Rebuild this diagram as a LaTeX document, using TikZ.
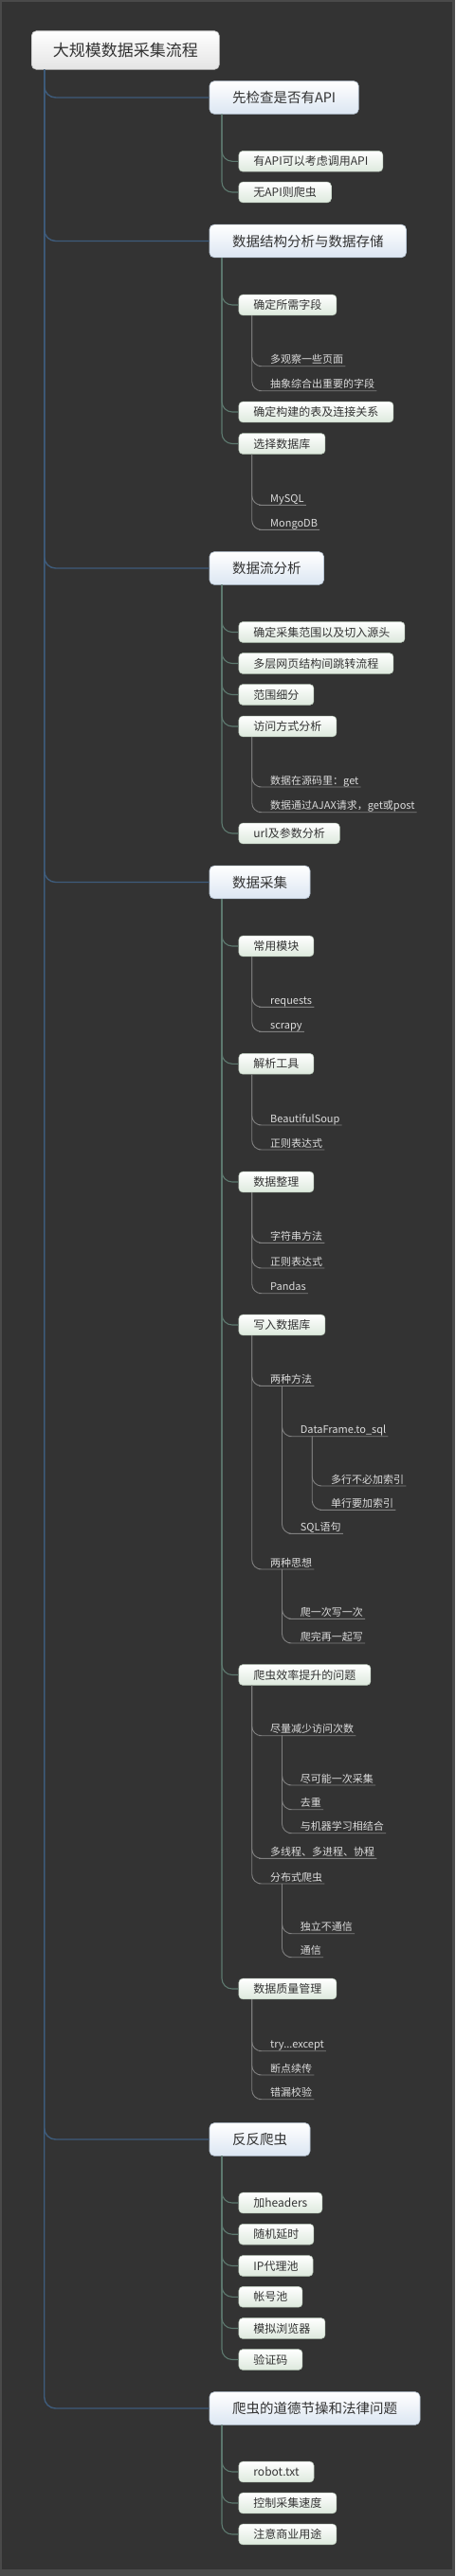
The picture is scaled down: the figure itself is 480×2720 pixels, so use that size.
\documentclass[tikz,border=0pt]{standalone}
\usepackage{fontspec}
\setmainfont{Noto Sans CJK SC}
\definecolor{bg}{HTML}{333333}
\definecolor{frame}{HTML}{4A4A4A}
\definecolor{trunkc}{HTML}{3E5C7C}
\definecolor{ltwoc}{HTML}{5E7A70}
\definecolor{lthreec}{HTML}{808080}
\definecolor{leaftxt}{HTML}{DCDCDC}
\definecolor{txt}{HTML}{333333}
\definecolor{lonebot}{HTML}{DCE6F2}
\definecolor{loneborder}{HTML}{B9C7D6}
\definecolor{ltwobot}{HTML}{DDE9DD}
\definecolor{ltwoborder}{HTML}{B8C8B8}
\definecolor{rootbot}{HTML}{E4E4E4}
\tikzset{
  rootbox/.style={rounded corners=5pt, top color=white, bottom color=rootbot, draw=gray!50, line width=0.6pt,
    font=\fontsize{17}{20}\selectfont, text=txt, inner xsep=22.5pt, inner ysep=0pt, minimum height=40.6pt, anchor=west},
  lonebox/.style={rounded corners=5pt, top color=white, bottom color=lonebot, draw=loneborder, line width=0.6pt,
    font=\fontsize{14.5}{17}\selectfont, text=txt, inner xsep=24pt, inner ysep=0pt, minimum height=34.7pt, anchor=west},
  ltwobox/.style={rounded corners=4pt, top color=white, bottom color=ltwobot, draw=ltwoborder, line width=0.5pt,
    font=\fontsize{12}{14}\selectfont, text=txt, inner xsep=15.5pt, inner ysep=0pt, minimum height=21.7pt, anchor=west},
  leaf/.style={font=\fontsize{11}{13}\selectfont, text=leaftxt, inner xsep=2pt, inner ysep=0pt, anchor=base west},
  trunkline/.style={draw=trunkc, line width=1.4pt, rounded corners=12pt},
  ltwoline/.style={draw=ltwoc, line width=1.1pt, rounded corners=11pt},
  lthreeline/.style={draw=lthreec, line width=0.9pt, rounded corners=10pt},
}
\begin{document}
\begin{tikzpicture}[x=1pt,y=-1pt]
\fill[frame] (0,0) rectangle (480,2720);
\fill[bg] (2,1.5) rectangle (477,2713);
\useasboundingbox (0,0) rectangle (480,2720);

% root
\node[rootbox] (root) at (33,53) {大规模数据采集流程};

% level 1
\node[lonebox] (a) at (220.7,103) {先检查是否有API};
\node[lonebox] (b) at (220.7,254.5) {数据结构分析与数据存储};
\node[lonebox] (c) at (220.7,600) {数据流分析};
\node[lonebox] (d) at (220.7,931.5) {数据采集};
\node[lonebox] (e) at (220.7,2259) {反反爬虫};
\node[lonebox] (f) at (220.7,2543) {爬虫的道德节操和法律问题};

\foreach \n in {a,b,c,d,e,f}{
  \draw[trunkline] ([xshift=13.7pt]root.south west) |- (\n.west);
}

% level 2
\node[ltwobox] (a1) at (251.7,170.3) {有API可以考虑调用API};
\node[ltwobox] (a2) at (251.7,203) {无API则爬虫};

\node[ltwobox] (b1) at (251.7,322) {确定所需字段};
\node[ltwobox] (b2) at (251.7,435) {确定构建的表及连接关系};
\node[ltwobox] (b3) at (251.7,468.5) {选择数据库};

\node[ltwobox] (c1) at (251.7,667.5) {确定采集范围以及切入源头};
\node[ltwobox] (c2) at (251.7,700.5) {多层网页结构间跳转流程};
\node[ltwobox] (c3) at (251.7,733.5) {范围细分};
\node[ltwobox] (c4) at (251.7,767) {访问方式分析};
\node[ltwobox] (c5) at (251.7,880) {url及参数分析};

\node[ltwobox] (d1) at (251.7,999) {常用模块};
\node[ltwobox] (d2) at (251.7,1123.3) {解析工具};
\node[ltwobox] (d3) at (251.7,1248) {数据整理};
\node[ltwobox] (d4) at (251.7,1399) {写入数据库};
\node[ltwobox] (d5) at (251.7,1768.5) {爬虫效率提升的问题};
\node[ltwobox] (d6) at (251.7,2100) {数据质量管理};

\node[ltwobox] (e1) at (251.7,2326) {加headers};
\node[ltwobox] (e2) at (251.7,2359.2) {随机延时};
\node[ltwobox] (e3) at (251.7,2392.5) {IP代理池};
\node[ltwobox] (e4) at (251.7,2425.3) {帐号池};
\node[ltwobox] (e5) at (251.7,2458.5) {模拟浏览器};
\node[ltwobox] (e6) at (251.7,2491.5) {验证码};

\node[ltwobox] (f1) at (251.7,2610) {robot.txt};
\node[ltwobox] (f2) at (251.7,2643) {控制采集速度};
\node[ltwobox] (f3) at (251.7,2676) {注意商业用途};

\foreach \p/\cs in {a/{a1,a2}, b/{b1,b2,b3}, c/{c1,c2,c3,c4,c5}, d/{d1,d2,d3,d4,d5,d6}, e/{e1,e2,e3,e4,e5,e6}, f/{f1,f2,f3}}{
  \foreach \c in \cs {
    \draw[ltwoline] ([xshift=13.3pt]\p.south west) |- (\c.west);
  }
}

% level 3 leaves
\node[leaf] (b11) at (283,383.7) {多观察一些页面};
\node[leaf] (b12) at (283,409.7) {抽象综合出重要的字段};
\node[leaf] (b31) at (283,530.3) {MySQL};
\node[leaf] (b32) at (283,556.3) {MongoDB};
\node[leaf] (c41) at (283,828) {数据在源码里：get};
\node[leaf] (c42) at (283,854.7) {数据通过AJAX请求，get或post};
\node[leaf] (d11) at (283,1060.3) {requests};
\node[leaf] (d12) at (283,1086.3) {scrapy};
\node[leaf] (d21) at (283,1185) {BeautifulSoup};
\node[leaf] (d22) at (283,1211) {正则表达式};
\node[leaf] (d31) at (283,1309.3) {字符串方法};
\node[leaf] (d32) at (283,1336) {正则表达式};
\node[leaf] (d33) at (283,1362.7) {Pandas};
\node[leaf] (d41) at (283,1460.3) {两种方法};
\node[leaf] (d42) at (283,1654) {两种思想};
\node[leaf] (d51) at (283,1829.7) {尽量减少访问次数};
\node[leaf] (d52) at (283,1959.3) {多线程、多进程、协程};
\node[leaf] (d53) at (283,1986) {分布式爬虫};
\node[leaf] (d61) at (283,2162.7) {try...except};
\node[leaf] (d62) at (283,2188) {断点续传};
\node[leaf] (d63) at (283,2213.7) {错漏校验};

% level 4
\node[leaf] (d411) at (314.7,1513.7) {DataFrame.to\_sql};
\node[leaf] (d412) at (314.7,1616.3) {SQL语句};
\node[leaf] (d421) at (314.7,1706.3) {爬一次写一次};
\node[leaf] (d422) at (314.7,1732) {爬完再一起写};
\node[leaf] (d511) at (314.7,1882) {尽可能一次采集};
\node[leaf] (d512) at (314.7,1907.7) {去重};
\node[leaf] (d513) at (314.7,1932.7) {与机器学习相结合};
\node[leaf] (d531) at (314.7,2038.7) {独立不通信};
\node[leaf] (d532) at (314.7,2063.7) {通信};

% level 5
\node[leaf] (d4111) at (347,1566) {多行不必加索引};
\node[leaf] (d4112) at (347,1591.3) {单行要加索引};

% connectors from boxes to leaves
\foreach \p/\cs in {b1/{b11,b12}, b3/{b31,b32}, c4/{c41,c42}, d1/{d11,d12}, d2/{d21,d22}, d3/{d31,d32,d33}, d4/{d41,d42}, d5/{d51,d52,d53}, d6/{d61,d62,d63}}{
  \foreach \c in \cs {
    \draw[lthreeline] ([xshift=14pt]\p.south west) |- ([yshift=-3pt]\c.base west) -- ([yshift=-3pt]\c.base east);
  }
}
% connectors from leaves to leaves
\foreach \p/\cs in {d41/{d411,d412}, d42/{d421,d422}, d51/{d511,d512,d513}, d53/{d531,d532}, d411/{d4111,d4112}}{
  \foreach \c in \cs {
    \draw[lthreeline] ([xshift=14.5pt,yshift=-3pt]\p.base west) |- ([yshift=-3pt]\c.base west) -- ([yshift=-3pt]\c.base east);
  }
}
\end{tikzpicture}
\end{document}
